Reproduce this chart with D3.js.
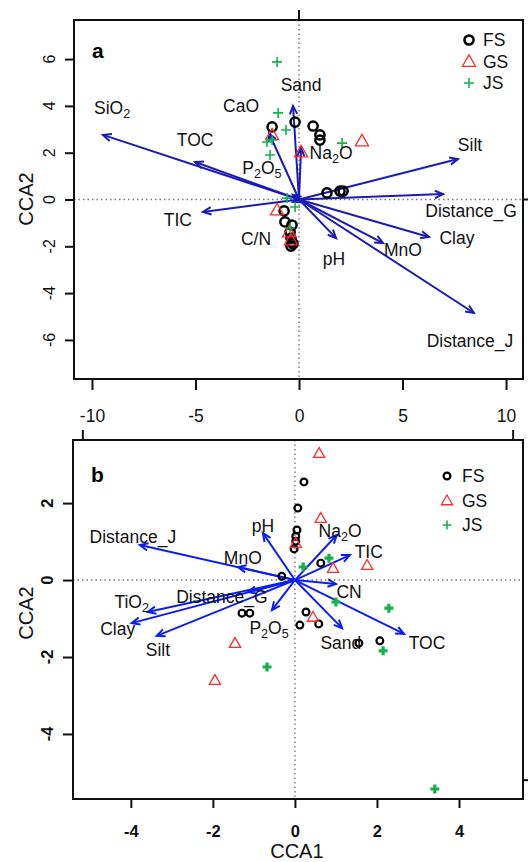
<!DOCTYPE html>
<html>
<head>
<meta charset="utf-8">
<script src="https://cdn.jsdelivr.net/npm/d3@7"></script>
<style>
  body { margin: 0; background: #fff; }
  text { font-family: "Liberation Sans", Arial, sans-serif; }
</style>
</head>
<body>
<div id="chart"></div>
<script>
// ---- panel a : environmental vectors (CCA1, CCA2) ----
const envNamesA = ["SiO{2}", "TOC", "CaO", "P{2}O{5}", "Sand", "Na{2}O", "Silt", "Distance_G", "TIC", "C/N", "Clay", "MnO", "pH", "Distance_J"];
const envXA = [-9.47, -5.02, -1.45, -0.30, -0.29, 0.10, 7.68, 6.96, -4.64, -0.30, 6.28, 4.06, 1.79, 8.45];
const envYA = [2.76, 1.60, 2.84, 0.20, 4.00, 2.20, 1.73, 0.23, -0.53, -0.10, -1.60, -1.86, -1.65, -4.85];
const labXA = [-9.03, -5.02, -2.80, -1.79, 0.10, 1.55, 8.26, 8.31, -5.85, -2.08, 7.63, 5.02, 1.69, 8.26];
const labYA = [3.91, 2.54, 4.00, 1.35, 4.89, 1.99, 2.33, -0.49, -0.88, -1.69, -1.65, -2.16, -2.54, -6.05];

// panel a : sites
const fsXA = [-1.30, -0.19, 0.68, 1.01, 1.01, 1.35, 1.98, 2.13, -0.72, -0.68, -0.34, -0.43, -0.39, -0.34, -0.39, -0.29];
const fsYA = [3.10, 3.31, 3.14, 2.76, 2.54, 0.28, 0.36, 0.36, -0.49, -0.96, -1.09, -1.39, -1.65, -1.82, -1.99, -1.90];
const gsXA = [-1.30, 0.10, 3.04, -1.06, -0.48, -0.39];
const gsYA = [2.76, 2.03, 2.50, -0.45, -1.39, -1.73];
const jsXA = [-1.06, -1.01, -0.63, -1.55, -1.30, -1.40, 2.08, -0.58, -0.19, -0.43];
const jsYA = [5.88, 3.70, 2.97, 2.46, 2.54, 1.90, 2.41, 0.06, -0.32, -1.22];

const xTicksA = [-10, -5, 0, 5, 10];
const yTicksA = [-6, -4, -2, 0, 2, 4, 6];

// ---- panel b ----
const envNamesB = ["Distance_J", "MnO", "pH", "Na{2}O", "TIC", "CN", "TOC", "Sand", "P{2}O{5}", "Distance_G", "TiO{2}", "Clay", "Silt"];
const envXB = [-3.78, -1.39, -0.78, 1.02, 1.34, 1.00, 2.66, 1.15, -0.56, -1.15, -3.59, -3.98, -3.37];
const envYB = [0.91, 0.34, 1.22, 1.17, 0.65, -0.10, -1.40, -1.25, -0.78, -0.31, -0.83, -1.12, -1.45];
const labXB = [-3.95, -1.27, -0.78, 1.10, 1.80, 1.32, 3.22, 1.12, -0.63, -1.78, -3.98, -4.32, -3.34];
const labYB = [1.12, 0.57, 1.40, 1.27, 0.75, -0.29, -1.64, -1.64, -1.25, -0.44, -0.57, -1.27, -1.82];

const fsXB = [0.22, 0.07, 0.05, 0.02, 0.02, -0.02, 0.63, -0.32, -1.29, -1.10, 0.27, 0.12, 0.58, 1.56, 2.07];
const fsYB = [2.55, 1.87, 1.30, 1.14, 1.01, 0.81, 0.44, 0.10, -0.86, -0.86, -0.83, -1.17, -1.14, -1.64, -1.58];
const gsXB = [0.59, 0.63, 0.02, 0.93, 1.76, 0.44, -1.46, -1.95];
const gsYB = [3.30, 1.61, 0.96, 0.31, 0.39, -0.96, -1.64, -2.60];
const jsXB = [0.20, 0.83, 1.00, 2.29, 2.15, -0.68, 3.41];
const jsYB = [0.34, 0.57, -0.57, -0.73, -1.84, -2.26, -5.43];

const xTicksB = [-4, -2, 0, 2, 4];
const yTicksB = [-4, -2, 0, 2];

const groups = ["FS", "GS", "JS"];

const width = 528, height = 862;
const red = "#ff2a2a", green = "#13b24b";

const svg = d3.select("#chart").append("svg")
  .attr("width", width)
  .attr("height", height);

function zip(xs, ys) { return xs.map((x, i) => ({ x: x, y: ys[i] })); }

function arrowHead(x0, y0, x1, y1, len) {
  const a = Math.atan2(y1 - y0, x1 - x0);
  const p1 = [x1 - len * Math.cos(a - 0.42), y1 - len * Math.sin(a - 0.42)];
  const p2 = [x1 - len * Math.cos(a + 0.42), y1 - len * Math.sin(a + 0.42)];
  return `M${p1[0]},${p1[1]}L${x1},${y1}L${p2[0]},${p2[1]}`;
}

// "SiO{2}" -> text with subscripts
function richLabel(sel, str, size) {
  const parts = str.split(/(\{[^}]*\})/).filter(s => s.length);
  let shift = 0;
  parts.forEach(p => {
    const sub = p[0] === "{";
    const target = sub ? 4 : 0;
    sel.append("tspan")
      .attr("dy", target - shift)
      .attr("font-size", sub ? size * 0.72 : size)
      .text(sub ? p.slice(1, -1) : p);
    shift = target;
  });
}

function panel(cfg) {
  const g = svg.append("g");
  const x = d3.scaleLinear().domain(cfg.xDom).range([cfg.left, cfg.right]);
  const y = d3.scaleLinear().domain(cfg.yDom).range([cfg.bottom, cfg.top]);

  // zero lines
  g.append("line")
    .attr("x1", x(0)).attr("x2", x(0)).attr("y1", cfg.top).attr("y2", cfg.bottom)
    .attr("stroke", "#777").attr("stroke-width", 1.4).attr("stroke-dasharray", "1.5,3");
  g.append("line")
    .attr("x1", cfg.left).attr("x2", cfg.right).attr("y1", y(0)).attr("y2", y(0))
    .attr("stroke", "#777").attr("stroke-width", 1.4).attr("stroke-dasharray", "1.5,3");

  // env arrows
  const env = cfg.envNames.map((n, i) => ({ n: n, x: cfg.envX[i], y: cfg.envY[i], lx: cfg.labX[i], ly: cfg.labY[i] }));
  const arr = g.append("g").attr("stroke", cfg.arrowColor).attr("stroke-width", 2).attr("fill", "none");
  arr.selectAll("line").data(env).join("line")
    .attr("x1", x(0)).attr("y1", y(0))
    .attr("x2", d => x(d.x)).attr("y2", d => y(d.y));
  arr.selectAll("path").data(env).join("path")
    .attr("d", d => arrowHead(x(0), y(0), x(d.x), y(d.y), 9));

  // sites
  g.append("g").selectAll("circle").data(zip(cfg.fsX, cfg.fsY)).join("circle")
    .attr("cx", d => x(d.x)).attr("cy", d => y(d.y)).attr("r", cfg.circleR)
    .attr("fill", "none").attr("stroke", "#000").attr("stroke-width", cfg.circleW);
  const tri = d3.symbol().type(d3.symbolTriangle).size(cfg.triSize);
  g.append("g").selectAll("path").data(zip(cfg.gsX, cfg.gsY)).join("path")
    .attr("d", tri)
    .attr("transform", d => `translate(${x(d.x)},${y(d.y) + 1})`)
    .attr("fill", "none").attr("stroke", red).attr("stroke-width", 1.3);
  g.append("g").selectAll("path").data(zip(cfg.jsX, cfg.jsY)).join("path")
    .attr("d", d => { const s = cfg.plusHalf; const px = x(d.x), py = y(d.y);
      return `M${px - s},${py}H${px + s}M${px},${py - s}V${py + s}`; })
    .attr("stroke", green).attr("stroke-width", cfg.plusW).attr("fill", "none");

  // env labels
  g.append("g").selectAll("text").data(env).join("text")
    .attr("x", d => x(d.lx)).attr("y", d => y(d.ly) + 6.3)
    .attr("text-anchor", "middle").attr("font-size", 17.5).attr("fill", "#111")
    .each(function (d) { richLabel(d3.select(this), d.n, 17.5); });

  // box
  g.append("rect")
    .attr("x", cfg.left).attr("y", cfg.top)
    .attr("width", cfg.right - cfg.left).attr("height", cfg.bottom - cfg.top)
    .attr("fill", "none").attr("stroke", "#111").attr("stroke-width", 2);

  // x axis
  const ax = g.append("g")
    .attr("transform", `translate(0,${cfg.bottom})`)
    .call(d3.axisBottom(x).tickValues(cfg.xTicks).tickSize(cfg.xTickLen).tickPadding(cfg.xPad)
      .tickFormat(d => String(d)));
  ax.attr("font-size", cfg.xFont).attr("font-weight", cfg.bold ? "bold" : "normal")
    .attr("font-family", "Liberation Sans, Arial, sans-serif");
  ax.select(".domain").remove();
  ax.selectAll("line").attr("stroke", "#111").attr("stroke-width", 2);
  ax.selectAll("text").attr("fill", "#111");

  // y axis (rotated labels, R style)
  const ay = g.append("g")
    .attr("transform", `translate(${cfg.left},0)`)
    .call(d3.axisLeft(y).tickValues(cfg.yTicks).tickSize(cfg.yTickLen).tickFormat(""));
  ay.select(".domain").remove();
  ay.selectAll("line").attr("stroke", "#111").attr("stroke-width", 2);
  g.append("g").selectAll("text").data(cfg.yTicks).join("text")
    .attr("transform", d => `translate(${cfg.left - cfg.yLabOff},${y(d)}) rotate(-90)`)
    .attr("text-anchor", "middle")
    .attr("font-size", cfg.yFont).attr("font-weight", cfg.bold ? "bold" : "normal")
    .attr("fill", "#111")
    .text(d => String(d));

  // CCA2 title
  g.append("text")
    .attr("transform", `translate(33,${cfg.titleY}) rotate(-90)`)
    .attr("text-anchor", "middle").attr("font-size", 20).attr("fill", "#111")
    .text("CCA2");

  // panel letter
  g.append("text")
    .attr("x", cfg.left + 18).attr("y", cfg.top + cfg.letterDy)
    .attr("font-size", 21).attr("font-weight", "bold").attr("fill", "#000")
    .text(cfg.letter);

  // legend
  const lg = g.append("g").attr("transform", `translate(${cfg.legX},${cfg.legY})`);
  groups.forEach((name, i) => {
    const row = lg.append("g").attr("transform", `translate(0,${i * cfg.legStep})`);
    if (i === 0) row.append("circle").attr("r", cfg.circleR).attr("fill", "none").attr("stroke", "#000").attr("stroke-width", cfg.circleW);
    if (i === 1) row.append("path").attr("d", tri).attr("transform", "translate(0,1)").attr("fill", "none").attr("stroke", red).attr("stroke-width", 1.3);
    if (i === 2) row.append("path").attr("d", `M${-cfg.plusHalf},0H${cfg.plusHalf}M0,${-cfg.plusHalf}V${cfg.plusHalf}`)
      .attr("stroke", green).attr("stroke-width", cfg.legPlusW);
    row.append("text").attr("x", cfg.legTextDx).attr("y", 6.2)
      .attr("font-size", 17.5).attr("fill", "#111").text(name);
  });

  return { g: g, x: x, y: y };
}

const pa = panel({
  left: 74, right: 523, top: 20, bottom: 379,
  xDom: [-10.87, 10.82], yDom: [-7.67, 7.67],
  envNames: envNamesA, envX: envXA, envY: envYA, labX: labXA, labY: labYA,
  fsX: fsXA, fsY: fsYA, gsX: gsXA, gsY: gsYA, jsX: jsXA, jsY: jsYA,
  arrowColor: "#1b1bb5", circleR: 4.6, circleW: 2.5, triSize: 75, plusHalf: 5, plusW: 1.6,
  xTicks: xTicksA, yTicks: yTicksA, xTickLen: 11, xPad: 20, xFont: 17.5,
  yTickLen: 9, yLabOff: 19, yFont: 16, bold: false,
  titleY: 199, letter: "a", letterDy: 38,
  legX: 469, legY: 40, legStep: 21.5, legTextDx: 14, legPlusW: 1.6
});

const pb = panel({
  left: 73, right: 523, top: 440, bottom: 799,
  xDom: [-5.41, 5.56], yDom: [-5.69, 3.64],
  envNames: envNamesB, envX: envXB, envY: envYB, labX: labXB, labY: labYB,
  fsX: fsXB, fsY: fsYB, gsX: gsXB, gsY: gsYB, jsX: jsXB, jsY: jsYB,
  arrowColor: "#0b1ff0", circleR: 3.4, circleW: 2.2, triSize: 55, plusHalf: 4.5, plusW: 3.2,
  xTicks: xTicksB, yTicks: yTicksB, xTickLen: 9, xPad: 17, xFont: 16.5,
  yTickLen: 10, yLabOff: 20, yFont: 16.5, bold: true,
  titleY: 613, letter: "b", letterDy: 42,
  legX: 447, legY: 476, legStep: 24.5, legTextDx: 15, legPlusW: 1.6
});

// stray ticks left over on the panel edges
svg.append("line").attr("x1", pa.x(0)).attr("x2", pa.x(0)).attr("y1", 10).attr("y2", 20)
  .attr("stroke", "#111").attr("stroke-width", 2);
svg.append("line").attr("x1", 523).attr("x2", 530).attr("y1", pa.y(0)).attr("y2", pa.y(0))
  .attr("stroke", "#111").attr("stroke-width", 2);
[-5.17, 5.32].forEach(v => {
  svg.append("line").attr("x1", pb.x(v)).attr("x2", pb.x(v)).attr("y1", 430).attr("y2", 440)
    .attr("stroke", "#111").attr("stroke-width", 2);
});
svg.append("line").attr("x1", 523).attr("x2", 530).attr("y1", pb.y(-5.2)).attr("y2", pb.y(-5.2))
  .attr("stroke", "#111").attr("stroke-width", 2);

// CCA1 title
svg.append("text")
  .attr("x", pb.x(0) + 2).attr("y", 858)
  .attr("text-anchor", "middle").attr("font-size", 20).attr("fill", "#111")
  .text("CCA1");
</script>
</body>
</html>
